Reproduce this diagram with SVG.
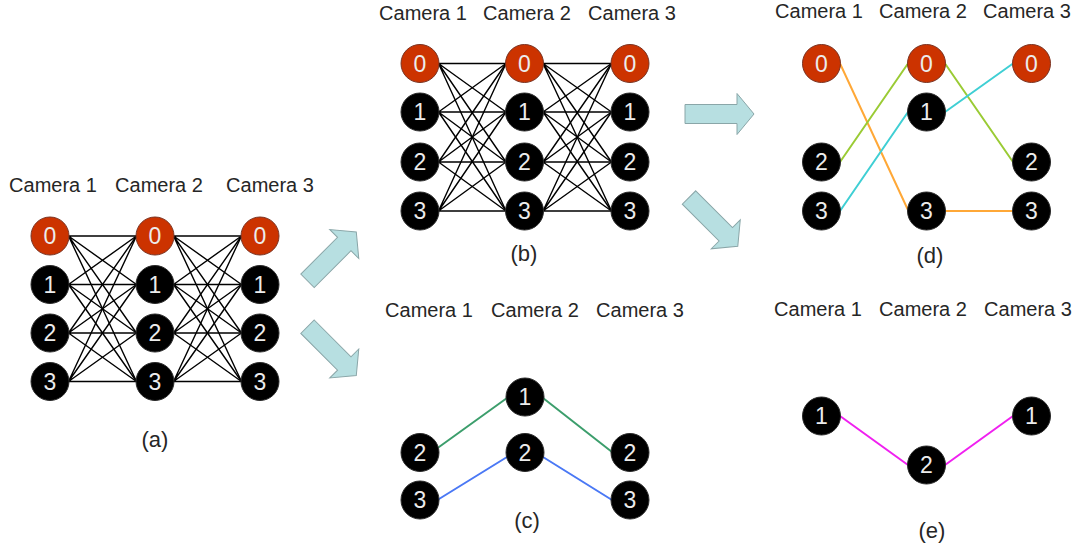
<svg xmlns="http://www.w3.org/2000/svg" xmlns:xlink="http://www.w3.org/1999/xlink" width="1081" height="546" viewBox="0 0 1081 546">
  <style>
    .cam { font-family: "Liberation Sans", Arial, sans-serif; font-size: 20px; fill: #262626; text-anchor: middle; }
    .cap { font-family: "Liberation Sans", Arial, sans-serif; font-size: 22px; fill: #262626; text-anchor: middle; }
    .num { font-family: "Liberation Sans", Arial, sans-serif; font-size: 23px; fill: #ececec; text-anchor: middle; }
    .blk { fill: #000; stroke: #2a2a2a; stroke-width: 1; }
    .red { fill: #cc3300; stroke: #7a3322; stroke-width: 1; }
    .full { fill: none; stroke: #000; stroke-width: 1.4; }
    .e { fill: none; stroke-width: 2; stroke-linecap: round; }
    .arrow { fill: #b7dfe1; stroke: #8aa6a8; stroke-width: 1; }
  </style>
  <defs>
    <!-- block arrow pointing along +x, tail centred on the origin -->
    <path id="blockArrow" d="M0 -9.5 L52 -9.5 L52 -20.5 L69 0 L52 20.5 L52 9.5 L0 9.5 Z"/>
  </defs>
  <rect width="1081" height="546" fill="#fff"/>

  <!-- transition arrows -->
  <g id="arrows" class="arrow">
    <use xlink:href="#blockArrow" href="#blockArrow" transform="translate(307.5 280.8) rotate(-45)"/>
    <use xlink:href="#blockArrow" href="#blockArrow" transform="translate(307.5 326.7) rotate(45)"/>
    <use xlink:href="#blockArrow" href="#blockArrow" transform="translate(685 114)"/>
    <use xlink:href="#blockArrow" href="#blockArrow" transform="translate(689 197.5) rotate(45)"/>
  </g>

  <!-- camera headers and panel captions -->
  <g id="labels">
    <text class="cam" x="53" y="192">Camera 1</text>
    <text class="cam" x="159" y="192">Camera 2</text>
    <text class="cam" x="270" y="192">Camera 3</text>
    <text class="cap" x="155" y="447">(a)</text>

    <text class="cam" x="423" y="20">Camera 1</text>
    <text class="cam" x="527" y="20">Camera 2</text>
    <text class="cam" x="632" y="20">Camera 3</text>
    <text class="cap" x="524" y="261">(b)</text>

    <text class="cam" x="429" y="317">Camera 1</text>
    <text class="cam" x="535" y="317">Camera 2</text>
    <text class="cam" x="640" y="317">Camera 3</text>
    <text class="cap" x="527" y="528">(c)</text>

    <text class="cam" x="819" y="18">Camera 1</text>
    <text class="cam" x="923" y="18">Camera 2</text>
    <text class="cam" x="1027" y="18">Camera 3</text>
    <text class="cap" x="930" y="263">(d)</text>

    <text class="cam" x="818" y="316">Camera 1</text>
    <text class="cam" x="923" y="316">Camera 2</text>
    <text class="cam" x="1028" y="316">Camera 3</text>
    <text class="cap" x="932" y="538">(e)</text>
  </g>

  <!-- connectors -->
  <g id="connectors">
    <!-- (a) every detection linked to every detection of the next camera -->
    <path class="full" d="M68.5 236L136.5 236M68.5 236L136.5 284.5M68.5 236L136.5 333M68.5 236L136.5 381.5"/>
    <path class="full" d="M68.5 284.5L136.5 236M68.5 284.5L136.5 284.5M68.5 284.5L136.5 333M68.5 284.5L136.5 381.5"/>
    <path class="full" d="M68.5 333L136.5 236M68.5 333L136.5 284.5M68.5 333L136.5 333M68.5 333L136.5 381.5"/>
    <path class="full" d="M68.5 381.5L136.5 236M68.5 381.5L136.5 284.5M68.5 381.5L136.5 333M68.5 381.5L136.5 381.5"/>
    <path class="full" d="M173.5 236L241.5 236M173.5 236L241.5 284.5M173.5 236L241.5 333M173.5 236L241.5 381.5"/>
    <path class="full" d="M173.5 284.5L241.5 236M173.5 284.5L241.5 284.5M173.5 284.5L241.5 333M173.5 284.5L241.5 381.5"/>
    <path class="full" d="M173.5 333L241.5 236M173.5 333L241.5 284.5M173.5 333L241.5 333M173.5 333L241.5 381.5"/>
    <path class="full" d="M173.5 381.5L241.5 236M173.5 381.5L241.5 284.5M173.5 381.5L241.5 333M173.5 381.5L241.5 381.5"/>

    <!-- (b) -->
    <path class="full" d="M438.5 63.5L506 63.5M438.5 63.5L506 112M438.5 63.5L506 162M438.5 63.5L506 211"/>
    <path class="full" d="M438.5 112L506 63.5M438.5 112L506 112M438.5 112L506 162M438.5 112L506 211"/>
    <path class="full" d="M438.5 162L506 63.5M438.5 162L506 112M438.5 162L506 162M438.5 162L506 211"/>
    <path class="full" d="M438.5 211L506 63.5M438.5 211L506 112M438.5 211L506 162M438.5 211L506 211"/>
    <path class="full" d="M543 63.5L611.5 63.5M543 63.5L611.5 112M543 63.5L611.5 162M543 63.5L611.5 211"/>
    <path class="full" d="M543 112L611.5 63.5M543 112L611.5 112M543 112L611.5 162M543 112L611.5 211"/>
    <path class="full" d="M543 162L611.5 63.5M543 162L611.5 112M543 162L611.5 162M543 162L611.5 211"/>
    <path class="full" d="M543 211L611.5 63.5M543 211L611.5 112M543 211L611.5 162M543 211L611.5 211"/>

    <!-- (c) two tracks -->
    <line class="e" stroke="#3c9e6c" x1="439" y1="447" x2="507" y2="398"/>
    <line class="e" stroke="#3c9e6c" x1="543" y1="398" x2="612" y2="452"/>
    <line class="e" stroke="#4a78f5" x1="439" y1="499" x2="507" y2="457"/>
    <line class="e" stroke="#4a78f5" x1="543" y1="457" x2="612" y2="500"/>

    <!-- (d) three tracks -->
    <line class="e" stroke="#ffa837" x1="840" y1="63.5" x2="908" y2="210"/>
    <line class="e" stroke="#ffa837" x1="945" y1="211" x2="1013" y2="211"/>
    <line class="e" stroke="#9acb34" x1="840" y1="162" x2="908" y2="63.5"/>
    <line class="e" stroke="#9acb34" x1="945" y1="63.5" x2="1013" y2="162"/>
    <line class="e" stroke="#3fcfd4" x1="840" y1="211" x2="908" y2="112"/>
    <line class="e" stroke="#3fcfd4" x1="945" y1="112" x2="1013" y2="63.5"/>

    <!-- (e) one track -->
    <line class="e" stroke="#f020f0" x1="840" y1="416" x2="908" y2="465"/>
    <line class="e" stroke="#f020f0" x1="945" y1="465" x2="1013" y2="416"/>
  </g>

  <!-- (a) nodes -->
  <g id="a-c1-0"><circle class="red" cx="50" cy="236" r="19"/><text class="num" x="50" y="244.2">0</text></g>
  <g id="a-c1-1"><circle class="blk" cx="50" cy="284.5" r="19"/><text class="num" x="50" y="292.7">1</text></g>
  <g id="a-c1-2"><circle class="blk" cx="50" cy="333" r="19"/><text class="num" x="50" y="341.2">2</text></g>
  <g id="a-c1-3"><circle class="blk" cx="50" cy="381.5" r="19"/><text class="num" x="50" y="389.7">3</text></g>
  <g id="a-c2-0"><circle class="red" cx="155" cy="236" r="19"/><text class="num" x="155" y="244.2">0</text></g>
  <g id="a-c2-1"><circle class="blk" cx="155" cy="284.5" r="19"/><text class="num" x="155" y="292.7">1</text></g>
  <g id="a-c2-2"><circle class="blk" cx="155" cy="333" r="19"/><text class="num" x="155" y="341.2">2</text></g>
  <g id="a-c2-3"><circle class="blk" cx="155" cy="381.5" r="19"/><text class="num" x="155" y="389.7">3</text></g>
  <g id="a-c3-0"><circle class="red" cx="260" cy="236" r="19"/><text class="num" x="260" y="244.2">0</text></g>
  <g id="a-c3-1"><circle class="blk" cx="260" cy="284.5" r="19"/><text class="num" x="260" y="292.7">1</text></g>
  <g id="a-c3-2"><circle class="blk" cx="260" cy="333" r="19"/><text class="num" x="260" y="341.2">2</text></g>
  <g id="a-c3-3"><circle class="blk" cx="260" cy="381.5" r="19"/><text class="num" x="260" y="389.7">3</text></g>

  <!-- (b) nodes -->
  <g id="b-c1-0"><circle class="red" cx="420" cy="63.5" r="19"/><text class="num" x="420" y="71.7">0</text></g>
  <g id="b-c1-1"><circle class="blk" cx="420" cy="112" r="19"/><text class="num" x="420" y="120.2">1</text></g>
  <g id="b-c1-2"><circle class="blk" cx="420" cy="162" r="19"/><text class="num" x="420" y="170.2">2</text></g>
  <g id="b-c1-3"><circle class="blk" cx="420" cy="211" r="19"/><text class="num" x="420" y="219.2">3</text></g>
  <g id="b-c2-0"><circle class="red" cx="524.5" cy="63.5" r="19"/><text class="num" x="524.5" y="71.7">0</text></g>
  <g id="b-c2-1"><circle class="blk" cx="524.5" cy="112" r="19"/><text class="num" x="524.5" y="120.2">1</text></g>
  <g id="b-c2-2"><circle class="blk" cx="524.5" cy="162" r="19"/><text class="num" x="524.5" y="170.2">2</text></g>
  <g id="b-c2-3"><circle class="blk" cx="524.5" cy="211" r="19"/><text class="num" x="524.5" y="219.2">3</text></g>
  <g id="b-c3-0"><circle class="red" cx="630" cy="63.5" r="19"/><text class="num" x="630" y="71.7">0</text></g>
  <g id="b-c3-1"><circle class="blk" cx="630" cy="112" r="19"/><text class="num" x="630" y="120.2">1</text></g>
  <g id="b-c3-2"><circle class="blk" cx="630" cy="162" r="19"/><text class="num" x="630" y="170.2">2</text></g>
  <g id="b-c3-3"><circle class="blk" cx="630" cy="211" r="19"/><text class="num" x="630" y="219.2">3</text></g>

  <!-- (c) nodes -->
  <g id="c-c1-2"><circle class="blk" cx="420" cy="452.5" r="19"/><text class="num" x="420" y="460.7">2</text></g>
  <g id="c-c1-3"><circle class="blk" cx="420" cy="500" r="19"/><text class="num" x="420" y="508.2">3</text></g>
  <g id="c-c2-1"><circle class="blk" cx="525" cy="397" r="19"/><text class="num" x="525" y="405.2">1</text></g>
  <g id="c-c2-2"><circle class="blk" cx="525" cy="452.5" r="19"/><text class="num" x="525" y="460.7">2</text></g>
  <g id="c-c3-2"><circle class="blk" cx="630" cy="452.5" r="19"/><text class="num" x="630" y="460.7">2</text></g>
  <g id="c-c3-3"><circle class="blk" cx="630" cy="500" r="19"/><text class="num" x="630" y="508.2">3</text></g>

  <!-- (d) nodes -->
  <g id="d-c1-0"><circle class="red" cx="821.5" cy="63.5" r="19"/><text class="num" x="821.5" y="71.7">0</text></g>
  <g id="d-c1-2"><circle class="blk" cx="821.5" cy="162" r="19"/><text class="num" x="821.5" y="170.2">2</text></g>
  <g id="d-c1-3"><circle class="blk" cx="821.5" cy="211" r="19"/><text class="num" x="821.5" y="219.2">3</text></g>
  <g id="d-c2-0"><circle class="red" cx="926.5" cy="63.5" r="19"/><text class="num" x="926.5" y="71.7">0</text></g>
  <g id="d-c2-1"><circle class="blk" cx="926.5" cy="112" r="19"/><text class="num" x="926.5" y="120.2">1</text></g>
  <g id="d-c2-3"><circle class="blk" cx="926.5" cy="211" r="19"/><text class="num" x="926.5" y="219.2">3</text></g>
  <g id="d-c3-0"><circle class="red" cx="1031.5" cy="63.5" r="19"/><text class="num" x="1031.5" y="71.7">0</text></g>
  <g id="d-c3-2"><circle class="blk" cx="1031.5" cy="162" r="19"/><text class="num" x="1031.5" y="170.2">2</text></g>
  <g id="d-c3-3"><circle class="blk" cx="1031.5" cy="211" r="19"/><text class="num" x="1031.5" y="219.2">3</text></g>

  <!-- (e) nodes -->
  <g id="e-c1-1"><circle class="blk" cx="821.5" cy="416" r="19"/><text class="num" x="821.5" y="424.2">1</text></g>
  <g id="e-c2-2"><circle class="blk" cx="926.5" cy="465" r="19"/><text class="num" x="926.5" y="473.2">2</text></g>
  <g id="e-c3-1"><circle class="blk" cx="1031.5" cy="416" r="19"/><text class="num" x="1031.5" y="424.2">1</text></g>
</svg>
